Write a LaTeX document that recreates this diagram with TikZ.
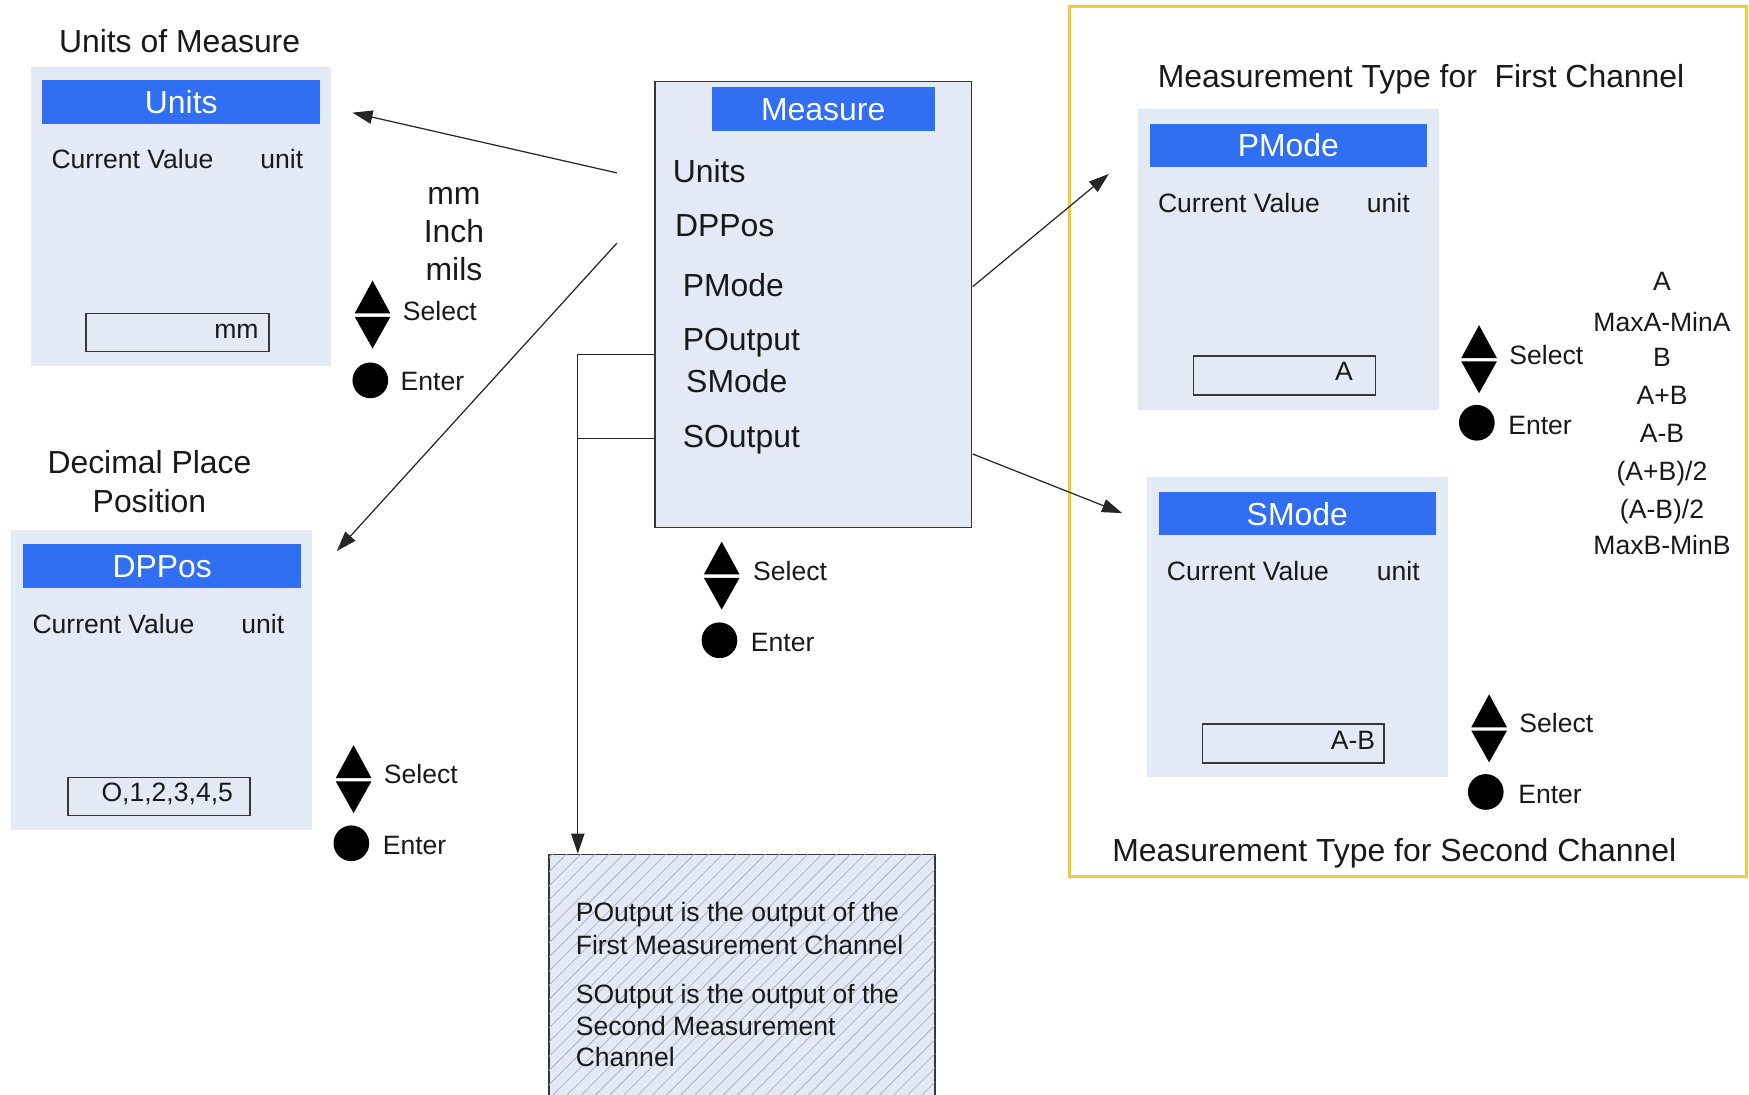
\documentclass[tikz,border=0pt]{standalone}
\usepackage{fontspec}
\setmainfont{Liberation Sans}
\usetikzlibrary{arrows.meta,patterns.meta}
\newcommand\fBig{\fontsize{28.6}{34}\selectfont}
\newcommand\fSmall{\fontsize{23.8}{28}\selectfont}
\definecolor{panelbg}{RGB}{228,234,245}
\definecolor{hdrblue}{RGB}{48,110,242}
\definecolor{frameyel}{RGB}{240,204,60}
\definecolor{edgegray}{RGB}{55,55,55}
\definecolor{inkc}{RGB}{25,25,25}
\definecolor{hatchc}{RGB}{170,177,190}
\tikzset{
 panel/.style={fill=panelbg, draw=none, inner sep=0pt, outer sep=0pt},
 hdr/.style={fill=hdrblue, text=white, inner sep=0pt, font=\fBig, text height=20.5pt, text depth=0pt},
 bigt/.style={inner sep=0pt, text=inkc, font=\fBig, text height=20.5pt, text depth=0pt},
 smallt/.style={inner sep=0pt, text=inkc, font=\fSmall, text height=17pt, text depth=0pt},
 valbox/.style={draw=edgegray, line width=1.4pt, fill=panelbg, inner sep=0pt},
 mainbox/.style={draw=edgegray, line width=1.4pt, fill=panelbg, inner sep=0pt},
 notesbox/.style={draw=edgegray, line width=1.4pt, fill=panelbg, inner sep=0pt,
   postaction={pattern={Lines[angle=45,distance=9pt,line width=0.7pt]}, pattern color=hatchc}},
 conn/.style={draw=black!85, line width=1.1pt},
 arr/.style={conn, -{Triangle[length=18pt,width=12pt]}},
 enterdot/.style={circle, fill=black, inner sep=0pt, minimum size=32pt},
 selpic/.pic={\fill[black] (-16,-1.5) -- (16,-1.5) -- (0,-31) -- cycle;
              \fill[black] (-16,1.5) -- (16,1.5) -- (0,30) -- cycle;},
}
\begin{document}
\begin{tikzpicture}[x=1pt,y=-1pt]
\useasboundingbox (0,0) rectangle (1568,981);
\clip (0,0) rectangle (1568,981);
\fill[white] (0,0) rectangle (1568,981);

% ---------- Units ----------
\node[bigt] (tUnits) at (161,37) {Units of Measure};
\node[panel, minimum width=269pt, minimum height=268pt] (pUnits) at (162.5,194) {};
\node[hdr, minimum width=249pt, minimum height=39pt] (hUnits) at (162.5,91.5) {Units};
\node[smallt, anchor=west] (cvUnits) at (46,143) {Current Value};
\node[smallt, anchor=east] (uUnits) at (272,143) {unit};
\node[valbox, minimum width=164pt, minimum height=34pt] (bUnits) at (159,298) {};
\node[smallt, anchor=east] (vUnits) at (232,295) {mm};
\node[bigt] (oMm) at (407,173) {mm};
\node[bigt] (oInch) at (407,207) {Inch};
\node[bigt] (oMils) at (407,241) {mils};
\pic at (334,282.5) {selpic};
\node[smallt, anchor=west] (sUnits) at (361,279) {Select};
\node[enterdot] (dUnits) at (332,341) {};
\node[smallt, anchor=west] (eUnits) at (359,342) {Enter};

% ---------- Measure ----------
\node[mainbox, minimum width=284pt, minimum height=400pt] (mBox) at (729,273) {};
\node[hdr, minimum width=200pt, minimum height=39pt] (hMeas) at (738,97.5) {Measure};
\node[bigt, anchor=west] (iUnits) at (603,153) {Units};
\node[bigt, anchor=west] (iDPPos) at (605,202) {DPPos};
\node[bigt, anchor=west] (iPMode) at (612,256) {PMode};
\node[bigt, anchor=west] (iPOut) at (612,304) {POutput};
\node[bigt, anchor=west] (iSMode) at (615,342) {SMode};
\node[bigt, anchor=west] (iSOut) at (612,391) {SOutput};
\pic at (647,516.5) {selpic};
\node[smallt, anchor=west] (sMeas) at (675,512) {Select};
\node[enterdot] (dMeas) at (645,574) {};
\node[smallt, anchor=west] (eMeas) at (673,576) {Enter};

% ---------- DPPos ----------
\node[bigt] (tDP1) at (134,414) {Decimal Place};
\node[bigt] (tDP2) at (134,449) {Position};
\node[panel, minimum width=270pt, minimum height=269pt] (pDP) at (145,609.5) {};
\node[hdr, minimum width=249pt, minimum height=39pt] (hDP) at (145.5,507.5) {DPPos};
\node[smallt, anchor=west] (cvDP) at (29,559) {Current Value};
\node[smallt, anchor=east] (uDP) at (255,559) {unit};
\node[valbox, minimum width=163pt, minimum height=34pt] (bDP) at (142.5,714) {};
\node[smallt, anchor=east] (vDP) at (209,710) {O,1,2,3,4,5};
\pic at (317,699) {selpic};
\node[smallt, anchor=west] (sDP) at (344,694) {Select};
\node[enterdot] (dDP) at (315,756) {};
\node[smallt, anchor=west] (eDP) at (343,758) {Enter};

% ---------- Right frame ----------
\node[draw=frameyel, line width=2.5pt, inner sep=0pt, minimum width=607pt, minimum height=780pt] (frame) at (1262.5,396) {};
\node[bigt] (tP) at (1274,68) {Measurement Type for\ \ First Channel};
\node[panel, minimum width=270pt, minimum height=270pt] (pP) at (1155,233) {};
\node[hdr, minimum width=248pt, minimum height=39pt] (hP) at (1155,130.5) {PMode};
\node[smallt, anchor=west] (cvP) at (1038,182) {Current Value};
\node[smallt, anchor=east] (uP) at (1264,182) {unit};
\node[valbox, minimum width=163pt, minimum height=35pt] (bP) at (1151.5,336.5) {};
\node[smallt, anchor=east] (vP) at (1213,333) {A};
\pic at (1326,322.5) {selpic};
\node[smallt, anchor=west] (sP) at (1353,318) {Select};
\node[enterdot] (dP) at (1324,379) {};
\node[smallt, anchor=west] (eP) at (1352,381) {Enter};

\node[smallt] (l1) at (1490,252) {A};
\node[smallt] (l2) at (1490,289) {MaxA-MinA};
\node[smallt] (l3) at (1490,320) {B};
\node[smallt] (l4) at (1490,354) {A+B};
\node[smallt] (l5) at (1490,388) {A-B};
\node[smallt] (l6) at (1490,422) {(A+B)/2};
\node[smallt] (l7) at (1490,456) {(A-B)/2};
\node[smallt] (l8) at (1490,489) {MaxB-MinB};

\node[panel, minimum width=270pt, minimum height=269pt] (pS) at (1163,562.5) {};
\node[hdr, minimum width=248pt, minimum height=39pt] (hS) at (1163,460.5) {SMode};
\node[smallt, anchor=west] (cvS) at (1046,512) {Current Value};
\node[smallt, anchor=east] (uS) at (1273,512) {unit};
\node[valbox, minimum width=163pt, minimum height=35pt] (bS) at (1159.5,666.5) {};
\node[smallt, anchor=east] (vS) at (1233,663) {A-B};
\pic at (1335,653.5) {selpic};
\node[smallt, anchor=west] (sS) at (1362,648) {Select};
\node[enterdot] (dS) at (1332,710) {};
\node[smallt, anchor=west] (eS) at (1361,712) {Enter};
\node[bigt, anchor=west] (tS) at (997,762) {Measurement Type for Second Channel};

% ---------- Notes ----------
\node[notesbox, minimum width=346pt, minimum height=224pt] (notes) at (665,878) {};
\node[smallt, anchor=west] (n1) at (516,818) {POutput is the output of the};
\node[smallt, anchor=west] (n2) at (516,847) {First Measurement Channel};
\node[smallt, anchor=west] (n3) at (516,891) {SOutput is the output of the};
\node[smallt, anchor=west] (n4) at (516,920) {Second Measurement};
\node[smallt, anchor=west] (n5) at (516,948) {Channel};

% ---------- Connectors ----------
\coordinate (aUs) at (553,155);
\coordinate (aUe) at (316,101);
\draw[arr] (aUs) -- (aUe);
\coordinate (aDs) at (553,218);
\coordinate (aDe) at (302,494);
\draw[arr] (aDs) -- (aDe);
\coordinate (aPs) at (872,257);
\coordinate (aPe) at (994,156);
\draw[arr] (aPs) -- (aPe);
\coordinate (aSs) at (872,407);
\coordinate (aSe) at (1006,460);
\draw[arr] (aSs) -- (aSe);
\coordinate (jP) at (518,318);
\coordinate (jS) at (518,393);
\draw[arr] (mBox.west |- jP) -- (jP) -- (jP |- notes.north);
\draw[conn] (mBox.west |- jS) -- (jS);
\end{tikzpicture}
\end{document}
